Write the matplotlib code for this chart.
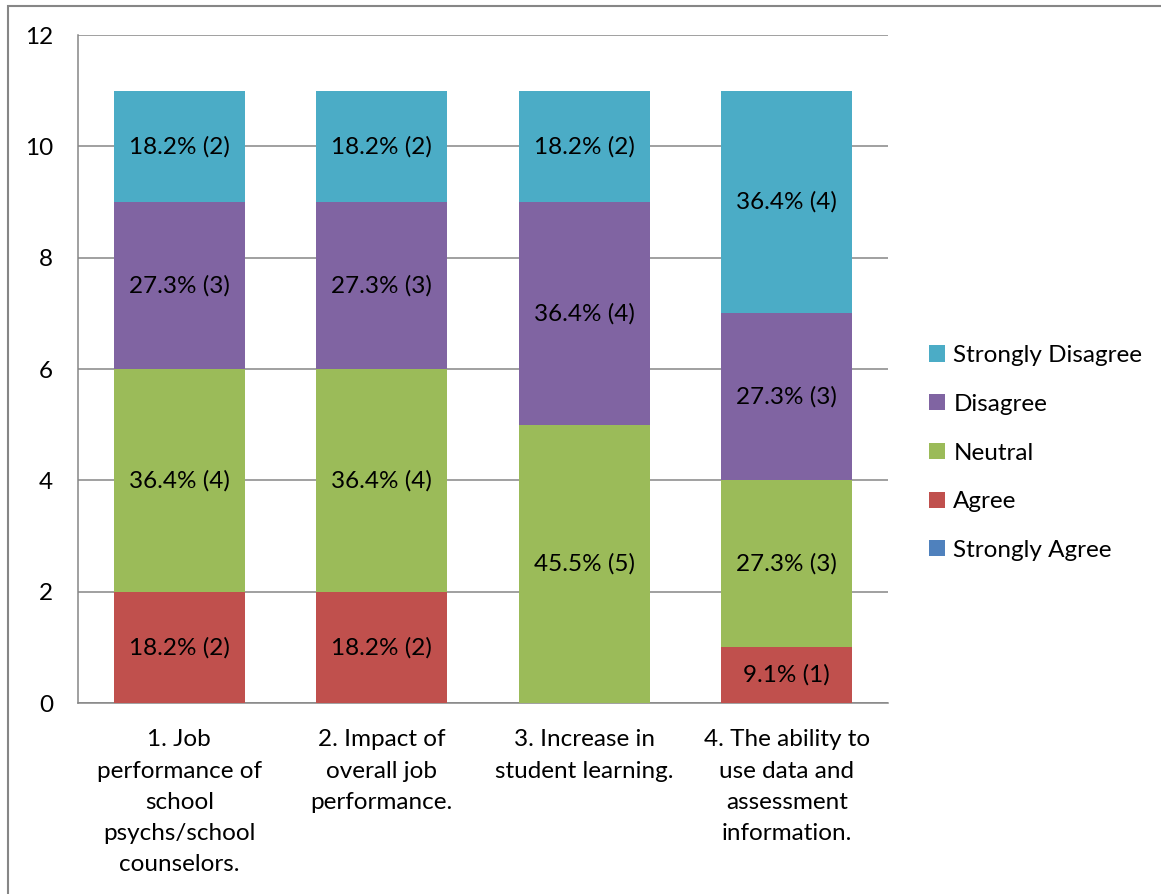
import numpy as np
import matplotlib
matplotlib.use("Agg")
import matplotlib.pyplot as plt
from matplotlib.patches import Rectangle

plt.rcParams['font.family'] = ['Lato', 'DejaVu Sans']

# survey data (counts of responses, n = 11)
categories = ["1. Job\nperformance of\nschool\npsychs/school\ncounselors.",
              "2. Impact of\noverall job\nperformance.",
              "3. Increase in\nstudent learning.",
              "4. The ability to\nuse data and\nassessment\ninformation."]
seriesNames = ["Strongly Agree", "Agree", "Neutral", "Disagree",
               "Strongly Disagree"]
stronglyAgree = [0, 0, 0, 0]
agree = [2, 2, 0, 1]
neutral = [4, 4, 5, 3]
disagree = [3, 3, 4, 3]
stronglyDisagree = [2, 2, 2, 4]
nTotal = 11
colors = ["#4F81BD", "#C0504D", "#9BBB59", "#8064A2", "#4BACC6"]
fs = 17.5

fig = plt.figure(figsize=(11.61, 8.94), dpi=100)
# outer chart border (Excel style)
fig.patches.append(Rectangle((8/1161., -0.05), 1.1, 1.05 - 6/894.,
                             transform=fig.transFigure, fill=False,
                             edgecolor="#868686", linewidth=1.5))
ax = fig.add_axes([78/1161., 1-703/894., 810/1161., 668/894.])

x = np.arange(len(categories))
bottom = np.zeros(len(categories))
handles = []
allSeries = [stronglyAgree, agree, neutral, disagree, stronglyDisagree]
for name, vals, col in zip(seriesNames, allSeries, colors):
    vals = np.array(vals, dtype=float)
    b = ax.bar(x, vals, width=0.647, bottom=bottom, color=col, label=name,
               zorder=3, linewidth=0)
    handles.append(b)
    for xi, v, b0 in zip(x, vals, bottom):
        if v > 0:
            ax.text(xi, b0 + v/2., "{:.1f}% ({:d})".format(100*v/nTotal, int(v)),
                    ha="center", va="center", fontsize=fs, zorder=4)
    bottom += vals

ax.set_xlim(-0.5, len(categories) - 0.5)
ax.set_ylim(0, 12)
ax.set_yticks(np.arange(0, 13, 2))
ax.yaxis.grid(True, color="#868686", linewidth=1.1, zorder=0)
ax.set_axisbelow(True)
ax.set_xticks(x)
ax.set_xticklabels(categories, fontsize=fs, linespacing=1.6)
ax.tick_params(axis="y", length=0, pad=18, labelsize=fs)
ax.tick_params(axis="x", length=0, pad=19)
for s in ["top", "right"]:
    ax.spines[s].set_visible(False)
for s in ["left", "bottom"]:
    ax.spines[s].set_color("#868686")
    ax.spines[s].set_linewidth(1.1)

fig.legend(handles[::-1], seriesNames[::-1], loc="center left",
           bbox_to_anchor=(929/1161., 1-453/894.), frameon=False,
           fontsize=fs, handlelength=0.65, handleheight=0.65,
           handletextpad=0.35, labelspacing=1.14, borderaxespad=0,
           borderpad=0)

fig.savefig("out.png", dpi=100)
